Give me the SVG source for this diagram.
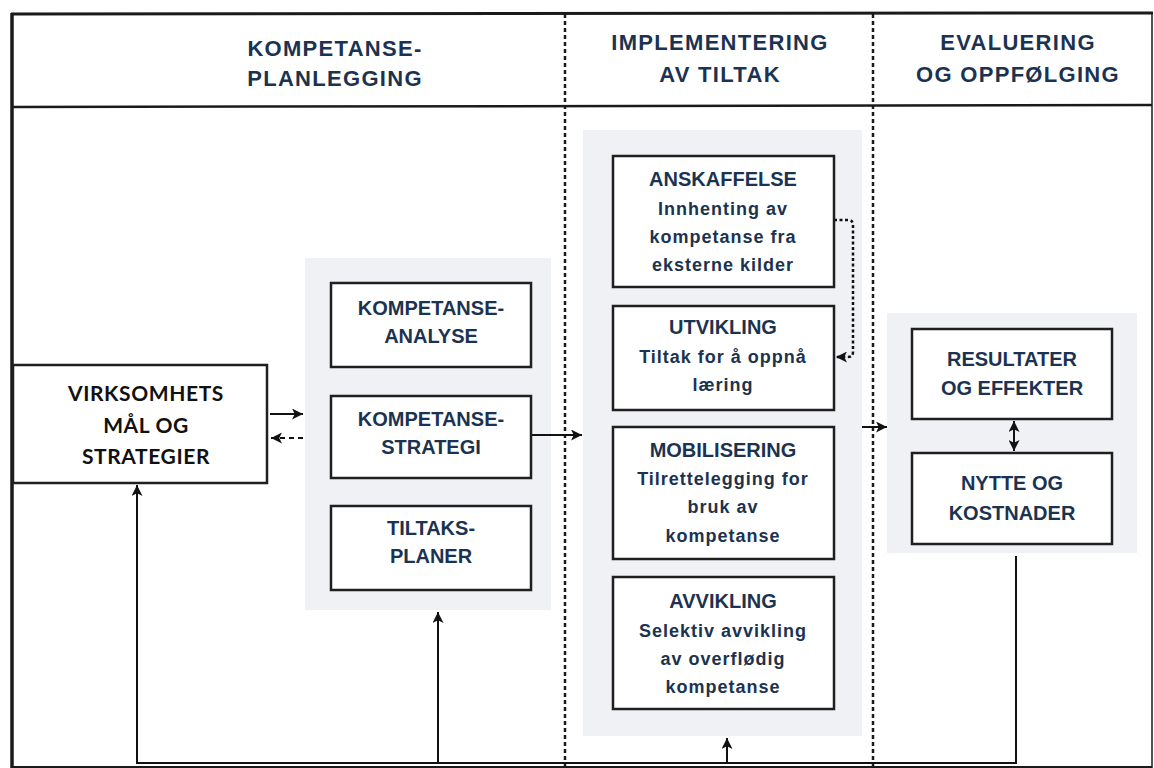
<svg xmlns="http://www.w3.org/2000/svg" width="1154" height="768" viewBox="0 0 1154 768">
  <style>
    .frame { fill: none; stroke: #1a1a1a; }
    .divider { stroke: #1a1a1a; stroke-width: 2.5; stroke-dasharray: 4 3; fill: none; }
    .panel { fill: #eff1f5; stroke: none; }
    .box { fill: #ffffff; stroke: #1f1f1f; stroke-width: 2.5; }
    .head { font-family: "Liberation Sans", Arial, sans-serif; font-weight: bold; font-size: 22px; fill: #1b3350; text-anchor: middle; letter-spacing: 1.3px; }
    .title { font-family: "Liberation Sans", Arial, sans-serif; font-weight: bold; font-size: 20px; fill: #1b3350; text-anchor: middle; }
    .body { font-family: "Liberation Sans", Arial, sans-serif; font-weight: bold; font-size: 18px; fill: #1b3350; text-anchor: middle; letter-spacing: 1px; }
    .goal { font-family: Lato, "Open Sans", sans-serif; font-weight: bold; font-size: 21px; fill: #111111; text-anchor: middle; letter-spacing: 0.6px; }
    .line { fill: none; stroke: #111111; stroke-width: 2; }
    .dash { stroke-dasharray: 5 4; }
    .dots { stroke-dasharray: 3 2.5; stroke-width: 2.5; }
  </style>
  <defs>
    <marker id="arrow" viewBox="0 0 10 10" refX="10" refY="5" markerWidth="12" markerHeight="11" markerUnits="userSpaceOnUse" orient="auto-start-reverse">
      <path d="M0,0 L10,5 L0,10 L2.5,5 z" fill="#111111"/>
    </marker>
  </defs>

  <rect width="1154" height="768" fill="#ffffff"/>

  <!-- outer frame and header band -->
  <g id="frame">
    <line class="frame" x1="12" y1="13" x2="12" y2="768" stroke-width="3.5"/>
    <line class="frame" x1="11" y1="14" x2="1153" y2="13" stroke-width="3"/>
    <line class="frame" x1="1152" y1="13" x2="1152" y2="768" stroke-width="1.5"/>
    <line class="frame" x1="12" y1="107" x2="1152" y2="105" stroke-width="2.5" stroke="#2a2e33"/>
    <line class="frame" x1="12" y1="767" x2="1152" y2="767" stroke-width="2"/>
    <line class="divider" x1="565" y1="14" x2="565" y2="768"/>
    <line class="divider" x1="873" y1="14" x2="873" y2="768"/>
  </g>

  <!-- column headings -->
  <g id="headings">
    <text class="head" x="335" y="56">KOMPETANSE-</text>
    <text class="head" x="335" y="86">PLANLEGGING</text>
    <text class="head" x="720" y="50">IMPLEMENTERING</text>
    <text class="head" x="720" y="82">AV TILTAK</text>
    <text class="head" x="1018" y="50">EVALUERING</text>
    <text class="head" x="1018" y="82">OG OPPFØLGING</text>
  </g>

  <!-- shaded column panels -->
  <g id="panels">
    <rect class="panel" x="305" y="258" width="246" height="352"/>
    <rect class="panel" x="583" y="130" width="279" height="606"/>
    <rect class="panel" x="887" y="313" width="250" height="240"/>
  </g>

  <!-- connectors -->
  <g id="connectors">
    <line class="line" x1="270" y1="414" x2="303" y2="414" marker-end="url(#arrow)"/>
    <line class="line dash" x1="303" y1="438" x2="271" y2="438" marker-end="url(#arrow)"/>
    <line class="line" x1="531" y1="435" x2="582" y2="435" marker-end="url(#arrow)"/>
    <path class="line dots" d="M834,220 H848 Q853,220 853,225 V352 Q853,357 848,357 H836" marker-end="url(#arrow)"/>
    <line class="line" x1="862" y1="427" x2="887" y2="427" marker-end="url(#arrow)"/>
    <line class="line" x1="1014" y1="421" x2="1014" y2="451" marker-start="url(#arrow)" marker-end="url(#arrow)"/>
    <path class="line" d="M1016,556 V763 H137 V485" marker-end="url(#arrow)"/>
    <line class="line" x1="438" y1="763" x2="438" y2="612" marker-end="url(#arrow)"/>
    <line class="line" x1="727" y1="763" x2="727" y2="738" marker-end="url(#arrow)"/>
  </g>

  <!-- planning column -->
  <g id="virksomhetsmaal">
    <rect class="box" x="13" y="365" width="254" height="118"/>
    <text class="goal" x="146" y="401">VIRKSOMHETS</text>
    <text class="goal" x="146" y="433">MÅL OG</text>
    <text class="goal" x="146" y="464">STRATEGIER</text>
  </g>
  <g id="kompetanseanalyse">
    <rect class="box" x="331" y="283" width="200" height="84"/>
    <text class="title" x="431" y="315">KOMPETANSE-</text>
    <text class="title" x="431" y="343">ANALYSE</text>
  </g>
  <g id="kompetansestrategi">
    <rect class="box" x="331" y="396" width="200" height="82"/>
    <text class="title" x="431" y="426">KOMPETANSE-</text>
    <text class="title" x="431" y="454">STRATEGI</text>
  </g>
  <g id="tiltaksplaner">
    <rect class="box" x="331" y="506" width="200" height="84"/>
    <text class="title" x="431" y="535">TILTAKS-</text>
    <text class="title" x="431" y="563">PLANER</text>
  </g>

  <!-- implementation column -->
  <g id="anskaffelse">
    <rect class="box" x="613" y="156" width="221" height="131"/>
    <text class="title" x="723" y="186">ANSKAFFELSE</text>
    <text class="body" x="723" y="215">Innhenting  av</text>
    <text class="body" x="723" y="243">kompetanse fra</text>
    <text class="body" x="723" y="271">eksterne kilder</text>
  </g>
  <g id="utvikling">
    <rect class="box" x="613" y="306" width="221" height="104"/>
    <text class="title" x="723" y="334">UTVIKLING</text>
    <text class="body" x="723" y="363">Tiltak for å oppnå</text>
    <text class="body" x="723" y="391">læring</text>
  </g>
  <g id="mobilisering">
    <rect class="box" x="613" y="427" width="221" height="132"/>
    <text class="title" x="723" y="457">MOBILISERING</text>
    <text class="body" x="723" y="485">Tilrettelegging for</text>
    <text class="body" x="723" y="513">bruk av</text>
    <text class="body" x="723" y="542">kompetanse</text>
  </g>
  <g id="avvikling">
    <rect class="box" x="613" y="577" width="221" height="132"/>
    <text class="title" x="723" y="608">AVVIKLING</text>
    <text class="body" x="723" y="637">Selektiv avvikling</text>
    <text class="body" x="723" y="665">av overflødig</text>
    <text class="body" x="723" y="693">kompetanse</text>
  </g>

  <!-- evaluation column -->
  <g id="resultater">
    <rect class="box" x="912" y="329" width="200" height="90"/>
    <text class="title" x="1012" y="366">RESULTATER</text>
    <text class="title" x="1012" y="395">OG EFFEKTER</text>
  </g>
  <g id="nytte">
    <rect class="box" x="912" y="453" width="200" height="91"/>
    <text class="title" x="1012" y="490">NYTTE  OG</text>
    <text class="title" x="1012" y="520">KOSTNADER</text>
  </g>
</svg>
